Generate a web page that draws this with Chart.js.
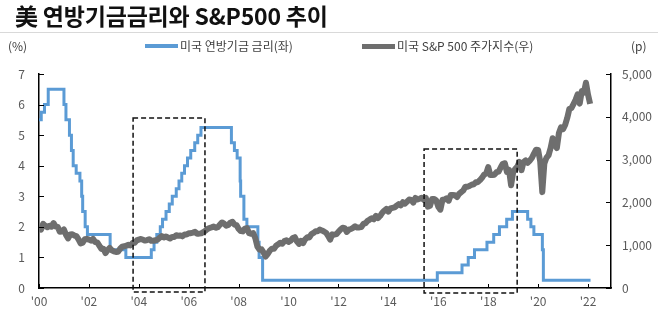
<!DOCTYPE html>
<html><head><meta charset="utf-8">
<script src="https://cdn.jsdelivr.net/npm/chart.js@4.4.1/dist/chart.umd.min.js"></script>
<style>
html,body{margin:0;padding:0;background:#fff;width:658px;height:311px;overflow:hidden;font-family:"Noto Sans CJK KR","Noto Sans",sans-serif;}
#wrap{position:relative;width:658px;height:311px;}
#c{position:absolute;left:0;top:0;}
.t{position:absolute;white-space:nowrap;}
#title{left:15px;top:-2px;font-size:23px;font-weight:700;color:#111;letter-spacing:-0.2px;}
#rule{position:absolute;left:0;top:32px;width:658px;height:1px;background:#d9d9d9;}
.lab{font-size:12px;color:#404040;top:37px;}
.sw{position:absolute;}
</style></head>
<body><div id="wrap">
<canvas id="c" width="658" height="311"></canvas>
<div class="t" id="title">美 연방기금금리와 S&amp;P500 추이</div>
<div id="rule"></div>
<div class="t lab" style="left:8px;">(%)</div>
<div class="t lab" style="left:631px;">(p)</div>
<div class="sw" style="left:145px;top:44px;width:33px;height:4px;background:#5B9BD5;"></div>
<div class="t lab" style="left:180px;">미국 연방기금 금리(좌)</div>
<div class="sw" style="left:362px;top:44px;width:33px;height:5px;background:#6E6E6E;"></div>
<div class="t lab" style="left:397px;">미국 S&amp;P 500 주가지수(우)</div>
</div>
<script>
// Fed funds target rate (upper), change dates as decimal years
const rateDates = [2000.0,2000.09,2000.22,2000.37,2001.0,2001.08,2001.22,2001.30,2001.37,2001.49,2001.64,2001.71,2001.75,2001.85,2001.94,2002.85,2003.48,2004.50,2004.61,2004.72,2004.86,2004.95,2005.09,2005.22,2005.34,2005.50,2005.61,2005.72,2005.83,2005.95,2006.08,2006.24,2006.36,2006.49,2007.71,2007.83,2007.94,2008.06,2008.08,2008.21,2008.33,2008.77,2008.82,2008.96,2015.96,2016.95,2017.20,2017.45,2017.95,2018.22,2018.45,2018.74,2018.97,2019.58,2019.71,2019.83,2020.17,2020.21,2022.1];
const rateValues = [5.5,5.75,6.0,6.5,6.0,5.5,5.0,4.5,4.0,3.75,3.5,3.0,2.5,2.0,1.75,1.25,1.0,1.25,1.5,1.75,2.0,2.25,2.5,2.75,3.0,3.25,3.5,3.75,4.0,4.25,4.5,4.75,5.0,5.25,4.75,4.5,4.25,3.5,3.0,2.25,2.0,1.5,1.0,0.25,0.5,0.75,1.0,1.25,1.5,1.75,2.0,2.25,2.5,2.25,2.0,1.75,1.25,0.25,0.25];
// S&P 500 monthly, from Jan 2000
const spxStartYear = 2000;
const spxValues = [
1394,1366,1499,1452,1421,1455,1431,1518,1437,1429,1315,1320,
1366,1240,1160,1249,1256,1224,1211,1134,1041,1060,1139,1148,
1130,1107,1147,1076,1067,990,912,916,815,886,936,880,
856,841,848,917,964,975,990,1008,996,1051,1058,1112,
1131,1145,1126,1107,1121,1141,1102,1104,1115,1130,1174,1212,
1181,1204,1181,1157,1192,1191,1234,1220,1229,1207,1249,1248,
1280,1281,1295,1311,1270,1270,1277,1304,1336,1378,1401,1418,
1438,1407,1421,1482,1531,1503,1455,1474,1527,1549,1481,1468,
1379,1331,1323,1386,1400,1280,1267,1283,1166,969,896,903,
826,735,798,873,919,919,987,1021,1057,1036,1096,1115,
1074,1104,1169,1187,1089,1031,1102,1049,1141,1183,1181,1258,
1286,1327,1326,1364,1345,1321,1292,1219,1131,1253,1247,1258,
1312,1366,1408,1398,1310,1362,1379,1407,1441,1412,1416,1426,
1498,1515,1569,1598,1631,1606,1686,1633,1682,1757,1806,1848,
1783,1859,1872,1884,1924,1960,1931,2003,1972,2018,2068,2059,
1995,2105,2068,2086,2107,2063,2104,1900,1920,2079,2080,2044,
1900,1830,2060,2065,2097,2040,2174,2171,2168,2126,2199,2239,
2279,2364,2363,2384,2412,2423,2470,2472,2519,2575,2648,2674,
2824,2640,2641,2648,2705,2718,2816,2902,2914,2712,2760,2400,
2704,2784,2834,2946,2752,2942,2980,2926,2977,3038,3141,3231,
3226,2954,2240,2912,3044,3100,3271,3500,3363,3270,3622,3756,
3714,3811,3973,4181,4204,4298,4395,4523,4308,4605,4567,4797,
4516,4300];
const xTickYears = [2000,2002,2004,2006,2008,2010,2012,2014,2016,2018,2020,2022];
const boxes = [
  {x0:2003.77, x1:2006.65, y0:-0.13, y1:5.56},
  {x0:2015.43, x1:2019.16, y0:-0.16, y1:4.55}
];

const rateData = rateDates.map((d,i)=>({x:d,y:rateValues[i]}));
const spxData = spxValues.map((v,i)=>({x:spxStartYear + i/12, y:v}));

const tickFont = {family:'"Noto Sans CJK KR","Noto Sans",sans-serif', size:12};
const tickColor = '#595959';

const innerTicks = {
  id:'innerTicks',
  afterDraw(chart){
    const ctx = chart.ctx, a = chart.chartArea;
    const x = chart.scales.x, y = chart.scales.y, y1 = chart.scales.y1;
    ctx.save();
    ctx.strokeStyle = '#000'; ctx.lineWidth = 1;
    ctx.beginPath();
    x.ticks.forEach(t=>{ const p = Math.round(x.getPixelForValue(t.value))+0.5; ctx.moveTo(p,a.bottom); ctx.lineTo(p,a.bottom-4); });
    y.ticks.forEach(t=>{ const p = Math.round(y.getPixelForValue(t.value))+0.5; ctx.moveTo(a.left,p); ctx.lineTo(a.left+5,p); });
    y1.ticks.forEach(t=>{ const p = Math.round(y1.getPixelForValue(t.value))+0.5; ctx.moveTo(a.right,p); ctx.lineTo(a.right-5,p); });
    ctx.stroke();
    // dashed boxes
    ctx.setLineDash([5,3]);
    ctx.lineWidth = 1.5;
    ctx.strokeStyle = '#111';
    boxes.forEach(b=>{
      const l = x.getPixelForValue(b.x0), r = x.getPixelForValue(b.x1);
      const t = y.getPixelForValue(b.y1), bt = y.getPixelForValue(b.y0);
      ctx.strokeRect(l, t, r-l, bt-t);
    });
    ctx.restore();
  }
};

new Chart(document.getElementById('c'), {
  type:'line',
  data:{datasets:[
    {label:'미국 S&P 500 주가지수(우)', data:spxData, yAxisID:'y1', borderColor:'#6E6E6E', borderWidth:6, pointRadius:0, tension:0, order:0, borderJoinStyle:'round'},
    {label:'미국 연방기금 금리(좌)', data:rateData, yAxisID:'y', borderColor:'#5B9BD5', borderWidth:3, pointRadius:0, stepped:true, order:1}
  ]},
  options:{
    responsive:false, animation:false, devicePixelRatio:1,
    layout:{padding:{top:74,left:0,right:0,bottom:0}},
    plugins:{legend:{display:false}, tooltip:{enabled:false}},
    scales:{
      x:{type:'linear', min:2000, max:2022.92,
        afterBuildTicks(s){ s.ticks = xTickYears.map(v=>({value:v})); },
        afterFit(s){ s.height = 23; },
        ticks:{callback:(v)=>"'"+String(v).slice(2), font:tickFont, color:tickColor, padding:6, maxRotation:0, autoSkip:false},
        grid:{display:false, drawTicks:false},
        border:{display:true, color:'#000', width:1.5}
      },
      y:{position:'left', min:0, max:7,
        afterFit(s){ s.width = 39; },
        ticks:{stepSize:1, font:tickFont, color:tickColor, padding:14},
        grid:{display:false, drawTicks:false},
        border:{display:true, color:'#000', width:1.5}
      },
      y1:{position:'right', min:0, max:5000,
        afterFit(s){ s.width = 47; },
        ticks:{stepSize:1000, font:tickFont, color:tickColor, padding:11, callback:(v)=>v.toLocaleString('en-US')},
        grid:{display:false, drawTicks:false},
        border:{display:true, color:'#000', width:1.5}
      }
    }
  },
  plugins:[innerTicks]
});
</script>
</body></html>
